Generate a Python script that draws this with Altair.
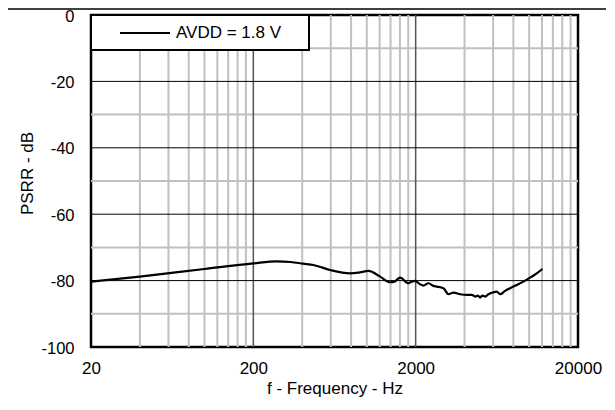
import altair as alt
import pandas as pd

# Curve data
freq = [20, 40, 100, 200, 278, 340, 405, 469, 594, 788, 888, 1023, 1208, 1390,
        1480, 1604, 1804, 1890, 1982, 2130, 2230, 2400, 2570, 2700, 2966, 3180,
        3420, 3760, 4130, 4440, 4650, 4840, 4986, 5150, 5370, 5610, 6030, 6320,
        6620, 7110, 8000, 9220, 10140, 11140, 12080]
psrr = [-80.3, -78.8, -76.5, -74.8, -74.2, -74.4, -74.9, -75.3, -76.8, -77.8,
        -77.6, -77.1, -78.8, -80.5, -80.3, -79.1, -80.8, -80.3, -80.1, -81.1,
        -81.5, -80.8, -81.6, -81.8, -82.3, -84.1, -83.6, -84.1, -84.3, -84.3,
        -84.8, -84.5, -85.1, -84.5, -84.8, -84.1, -83.5, -83.3, -84.1, -83.1,
        -81.8, -80.3, -79.1, -77.8, -76.5]

x_ticks = [20, 200, 2000, 20000]
y_ticks = [0, -20, -40, -60, -80, -100]
minor_x = [40, 60, 80, 100, 120, 140, 160, 180,
           400, 600, 800, 1000, 1200, 1400, 1600, 1800,
           4000, 6000, 8000, 10000, 12000, 14000, 16000, 18000]
major_x = [200, 2000]
minor_y = [-10, -30, -50, -70, -90]
major_y = [-20, -40, -60, -80]
legend_label = ["AVDD = 1.8 V"]

FONT = "Liberation Sans"
xscale = alt.Scale(type="log", domain=[20, 20000], nice=False)
yscale = alt.Scale(domain=[-100, 0], nice=False)

x_axis = alt.Axis(values=x_ticks, labelExpr="'' + datum.value", grid=False, ticks=False,
                  domain=False, labelPadding=13, labelFontSize=17,
                  title="f - Frequency - Hz", titleFontSize=17,
                  titleFontWeight="normal", titlePadding=4,
                  labelColor="black", titleColor="black", labelFont=FONT,
                  titleFont=FONT, labelFlush=False)
y_axis = alt.Axis(values=y_ticks, labelExpr="'' + datum.value", grid=False, ticks=False,
                  domain=False, labelPadding=17, labelFontSize=16.5, title="PSRR - dB",
                  titleFontSize=17, titleFontWeight="normal",
                  titleX=-64, titleY=158, titleBaseline="middle",
                  labelColor="black", titleColor="black", labelFont=FONT,
                  titleFont=FONT, labelOffset=1)

curve_df = pd.DataFrame({"f": freq, "psrr": psrr})

minor_x_rules = alt.Chart(pd.DataFrame({"f": minor_x})).mark_rule(
    color="#c0c0c0", strokeWidth=2).encode(
    x=alt.X("f:Q", scale=xscale, axis=x_axis))
minor_y_rules = alt.Chart(pd.DataFrame({"psrr": minor_y})).mark_rule(
    color="#c0c0c0", strokeWidth=2).encode(
    y=alt.Y("psrr:Q", scale=yscale, axis=y_axis))
major_x_rules = alt.Chart(pd.DataFrame({"f": major_x})).mark_rule(
    color="#555555", strokeWidth=1.5).encode(
    x=alt.X("f:Q", scale=xscale, axis=x_axis))
major_y_rules = alt.Chart(pd.DataFrame({"psrr": major_y})).mark_rule(
    color="black", strokeWidth=1).encode(
    y=alt.Y("psrr:Q", scale=yscale, axis=y_axis))

curve = alt.Chart(curve_df).mark_line(
    color="black", strokeWidth=2.2, interpolate="monotone").encode(
    x=alt.X("f:Q", scale=xscale, axis=x_axis),
    y=alt.Y("psrr:Q", scale=yscale, axis=y_axis))

leg_df = pd.DataFrame({"label": legend_label})
leg_box = alt.Chart(leg_df).mark_rect(
    fill="white", stroke="black", strokeWidth=2).encode(
    x=alt.value(0), x2=alt.value(218), y=alt.value(0), y2=alt.value(35))
leg_line = alt.Chart(leg_df).mark_rule(color="black", strokeWidth=2).encode(
    x=alt.value(29), x2=alt.value(79), y=alt.value(18))
leg_text = alt.Chart(leg_df).mark_text(
    align="left", baseline="middle", fontSize=17, font=FONT, color="black").encode(
    x=alt.value(85), y=alt.value(18), text="label:N")

top_line = alt.Chart(leg_df).mark_rule(color="black", strokeWidth=1.5).encode(
    x=alt.value(-83), x2=alt.value(517), y=alt.value(-6))

chart = alt.layer(
    minor_x_rules, minor_y_rules, major_x_rules, major_y_rules,
    curve, leg_box, leg_line, leg_text, top_line
).properties(
    width=487, height=332,
    autosize=alt.AutoSizeParams(type="none"),
    padding={"left": 83, "top": 7, "right": 28, "bottom": 53},
).configure(
    background="white"
).configure_view(
    stroke="black", strokeWidth=2.5
)

chart.save("out.html", embed_options={"renderer": "svg", "actions": False})
